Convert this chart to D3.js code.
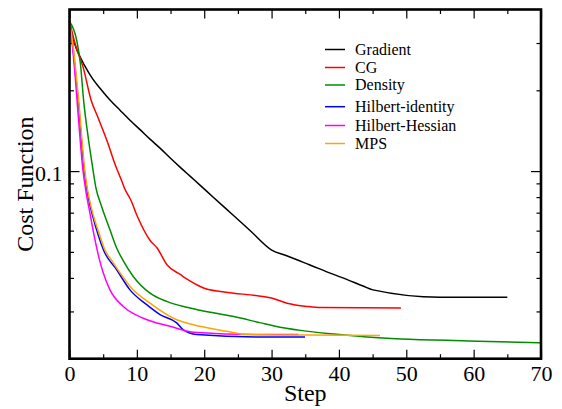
<!DOCTYPE html>
<html>
<head>
<meta charset="utf-8">
<script src="https://cdn.jsdelivr.net/npm/d3@7"></script>
<style>
  body { margin: 0; background: #fff; }
  svg { font-family: "Liberation Serif", "Times New Roman", serif; }
</style>
</head>
<body>
<svg id="chart" width="562" height="409"></svg>
<script>
// values
const seriesNames = ["Gradient", "CG", "Density", "Hilbert-identity", "Hilbert-Hessian", "MPS"];

const gradientSteps = [0, 0.52, 1.26, 2.29, 3.47, 4.53, 6.01, 7.5, 8.98, 10.47, 11.95, 13.44, 14.92, 16.41, 17.89, 19.37, 21.3, 24.27, 26.8, 30.02, 32.25, 35.7, 39.1, 41.15, 43.58, 45.06, 55.0, 65];
const gradientCost  = [0.361, 0.312, 0.277, 0.246, 0.220, 0.2035, 0.184, 0.1686, 0.1547, 0.1427, 0.1315, 0.1218, 0.1122, 0.1035, 0.0958, 0.0887, 0.0801, 0.0686, 0.0601, 0.0508, 0.0484, 0.0447, 0.0413, 0.0395, 0.0373, 0.0361, 0.0339, 0.0339];

const cgSteps = [0, 1, 2, 3.2, 4.2, 5.7, 6.7, 7.7, 8.2, 9.1, 10.1, 12, 13, 14.5, 16.5, 18, 20, 22.4, 24.4, 27.9, 30.1, 32.3, 35.3, 37.3, 49.2];
const cgCost  = [0.361, 0.288, 0.245, 0.184, 0.159, 0.127, 0.107, 0.0926, 0.086, 0.078, 0.0676, 0.055, 0.0517, 0.0447, 0.0411, 0.0388, 0.0366, 0.0356, 0.0351, 0.0343, 0.0336, 0.0322, 0.0313, 0.031, 0.0309];

const densitySteps = [0, 1.07, 1.63, 2.09, 2.84, 3.34, 3.9, 4.78, 6.01, 7.0, 7.99, 9.47, 11.95, 14.43, 17.4, 19.37, 24.4, 28.4, 30.4, 34.3, 39.2, 44.2, 49.2, 59.1, 70];
const densityCost  = [0.361, 0.307, 0.250, 0.184, 0.130, 0.107, 0.0872, 0.0737, 0.0604, 0.0517, 0.0463, 0.0405, 0.0351, 0.0327, 0.0311, 0.0303, 0.0287, 0.0272, 0.0265, 0.0255, 0.0247, 0.0241, 0.0237, 0.0233, 0.0229];

const identitySteps = [0, 0.52, 0.99, 1.34, 1.78, 2.15, 2.55, 2.94, 3.41, 4.31, 5.05, 7.01, 8.98, 11.46, 13.44, 15.92, 16.9, 18.88, 28.28, 34.96];
const identityCost  = [0.361, 0.289, 0.218, 0.178, 0.130, 0.1026, 0.0865, 0.0767, 0.0686, 0.0573, 0.0508, 0.0429, 0.0361, 0.0318, 0.0292, 0.0272, 0.0256, 0.0246, 0.0241, 0.0241];

const hessianSteps = [0, 0.45, 0.89, 1.16, 1.59, 1.96, 2.41, 3.04, 3.79, 4.38, 4.97, 6.01, 7.99, 10.96, 14.92, 18.38, 28.28, 33.97];
const hessianCost  = [0.361, 0.289, 0.218, 0.178, 0.130, 0.1026, 0.085, 0.0696, 0.0554, 0.0475, 0.0421, 0.0361, 0.0313, 0.0283, 0.0264, 0.0251, 0.0246, 0.0246];

const mpsSteps = [0, 0.56, 1.07, 1.41, 1.86, 2.23, 2.64, 3.04, 3.53, 4.53, 5.27, 6.31, 7.5, 9.23, 11.95, 15.41, 19.37, 23.34, 26.31, 34.96, 46.1];
const mpsCost  = [0.361, 0.289, 0.218, 0.178, 0.130, 0.1026, 0.0865, 0.0767, 0.0686, 0.0573, 0.0508, 0.0463, 0.0418, 0.0366, 0.0322, 0.0283, 0.0264, 0.0253, 0.0246, 0.0245, 0.0244];

const xMajorTicks = [0, 10, 20, 30, 40, 50, 60, 70];
const xMinorTicks = [5, 15, 25, 35, 45, 55, 65];
const yMajorTicks = [0.1];
const yMinorTicks = [0.02, 0.03, 0.04, 0.05, 0.06, 0.07, 0.08, 0.09, 0.2, 0.3];

const colors = ["#000000", "#ff0000", "#008c00", "#0000ff", "#ff00ff", "#ffa500"];
const legendY = [49.5, 67.5, 85, 106.7, 125.5, 143.5];

const allSteps = [gradientSteps, cgSteps, densitySteps, identitySteps, hessianSteps, mpsSteps];
const allCost = [gradientCost, cgCost, densityCost, identityCost, hessianCost, mpsCost];

const plotLeft = 69.5, plotRight = 541, plotTop = 9.5, plotBottom = 358.7;

const svg = d3.select("#chart");

const x = d3.scaleLinear().domain([0, 70]).range([plotLeft, plotRight]);
const y = d3.scaleLog().domain([0.02, 0.4]).range([plotBottom, plotTop]);

function tickStyle(g) {
  g.select(".domain").remove();
  g.selectAll(".tick line").attr("stroke", "#000").attr("stroke-width", 1.2);
  g.selectAll(".tick text").attr("fill", "#000").style("font-size", "22px")
    .style("font-family", '"Liberation Serif", "Times New Roman", serif');
}

// bottom / top ticks
svg.append("g").attr("transform", "translate(0," + plotBottom + ")")
  .call(d3.axisBottom(x).tickValues(xMajorTicks).tickSize(-9).tickPadding(7).tickFormat(d3.format("d")))
  .call(tickStyle);
svg.append("g").attr("transform", "translate(0," + plotBottom + ")")
  .call(d3.axisBottom(x).tickValues(xMinorTicks).tickSize(-4.5).tickFormat(""))
  .call(tickStyle);
svg.append("g").attr("transform", "translate(0," + plotTop + ")")
  .call(d3.axisTop(x).tickValues(xMajorTicks).tickSize(-9).tickFormat(""))
  .call(tickStyle);
svg.append("g").attr("transform", "translate(0," + plotTop + ")")
  .call(d3.axisTop(x).tickValues(xMinorTicks).tickSize(-4.5).tickFormat(""))
  .call(tickStyle);

// left / right ticks
svg.append("g").attr("transform", "translate(" + plotLeft + ",0)")
  .call(d3.axisLeft(y).tickValues(yMajorTicks).tickSize(-10).tickPadding(7).tickFormat(d3.format(".1f")))
  .call(tickStyle)
  .selectAll(".tick text").attr("dy", "0.42em");
svg.append("g").attr("transform", "translate(" + plotLeft + ",0)")
  .call(d3.axisLeft(y).tickValues(yMinorTicks).tickSize(-4.5).tickFormat(""))
  .call(tickStyle);
svg.append("g").attr("transform", "translate(" + plotRight + ",0)")
  .call(d3.axisRight(y).tickValues(yMajorTicks).tickSize(-10).tickFormat(""))
  .call(tickStyle);
svg.append("g").attr("transform", "translate(" + plotRight + ",0)")
  .call(d3.axisRight(y).tickValues(yMinorTicks).tickSize(-4.5).tickFormat(""))
  .call(tickStyle);

// curves
const line = d3.line().x(d => x(d[0])).y(d => y(d[1])).curve(d3.curveMonotoneX);

seriesNames.forEach(function(name, i) {
  const pts = allSteps[i].map((s, j) => [s, allCost[i][j]]);
  svg.append("path")
    .datum(pts)
    .attr("d", line)
    .attr("fill", "none")
    .attr("stroke", colors[i])
    .attr("stroke-width", 1.5)
    .attr("stroke-linejoin", "round");
});

// frame
svg.append("rect")
  .attr("x", plotLeft).attr("y", plotTop)
  .attr("width", plotRight - plotLeft).attr("height", plotBottom - plotTop)
  .attr("fill", "none").attr("stroke", "#000").attr("stroke-width", 2.6);

// axis titles
svg.append("text")
  .attr("x", (plotLeft + plotRight) / 2).attr("y", 401)
  .attr("text-anchor", "middle")
  .style("font-size", "24px")
  .text("Step");

svg.append("text")
  .attr("transform", "translate(33," + ((plotTop + plotBottom) / 2) + ") rotate(-90)")
  .attr("text-anchor", "middle")
  .style("font-size", "24px")
  .text("Cost Function");

// legend
const legend = svg.append("g");
seriesNames.forEach(function(name, i) {
  legend.append("line")
    .attr("x1", 325).attr("x2", 345)
    .attr("y1", legendY[i]).attr("y2", legendY[i])
    .attr("stroke", colors[i]).attr("stroke-width", 1.5);
  legend.append("text")
    .attr("x", 355).attr("y", legendY[i] + 5)
    .style("font-size", "16px")
    .text(name);
});
</script>
</body>
</html>
